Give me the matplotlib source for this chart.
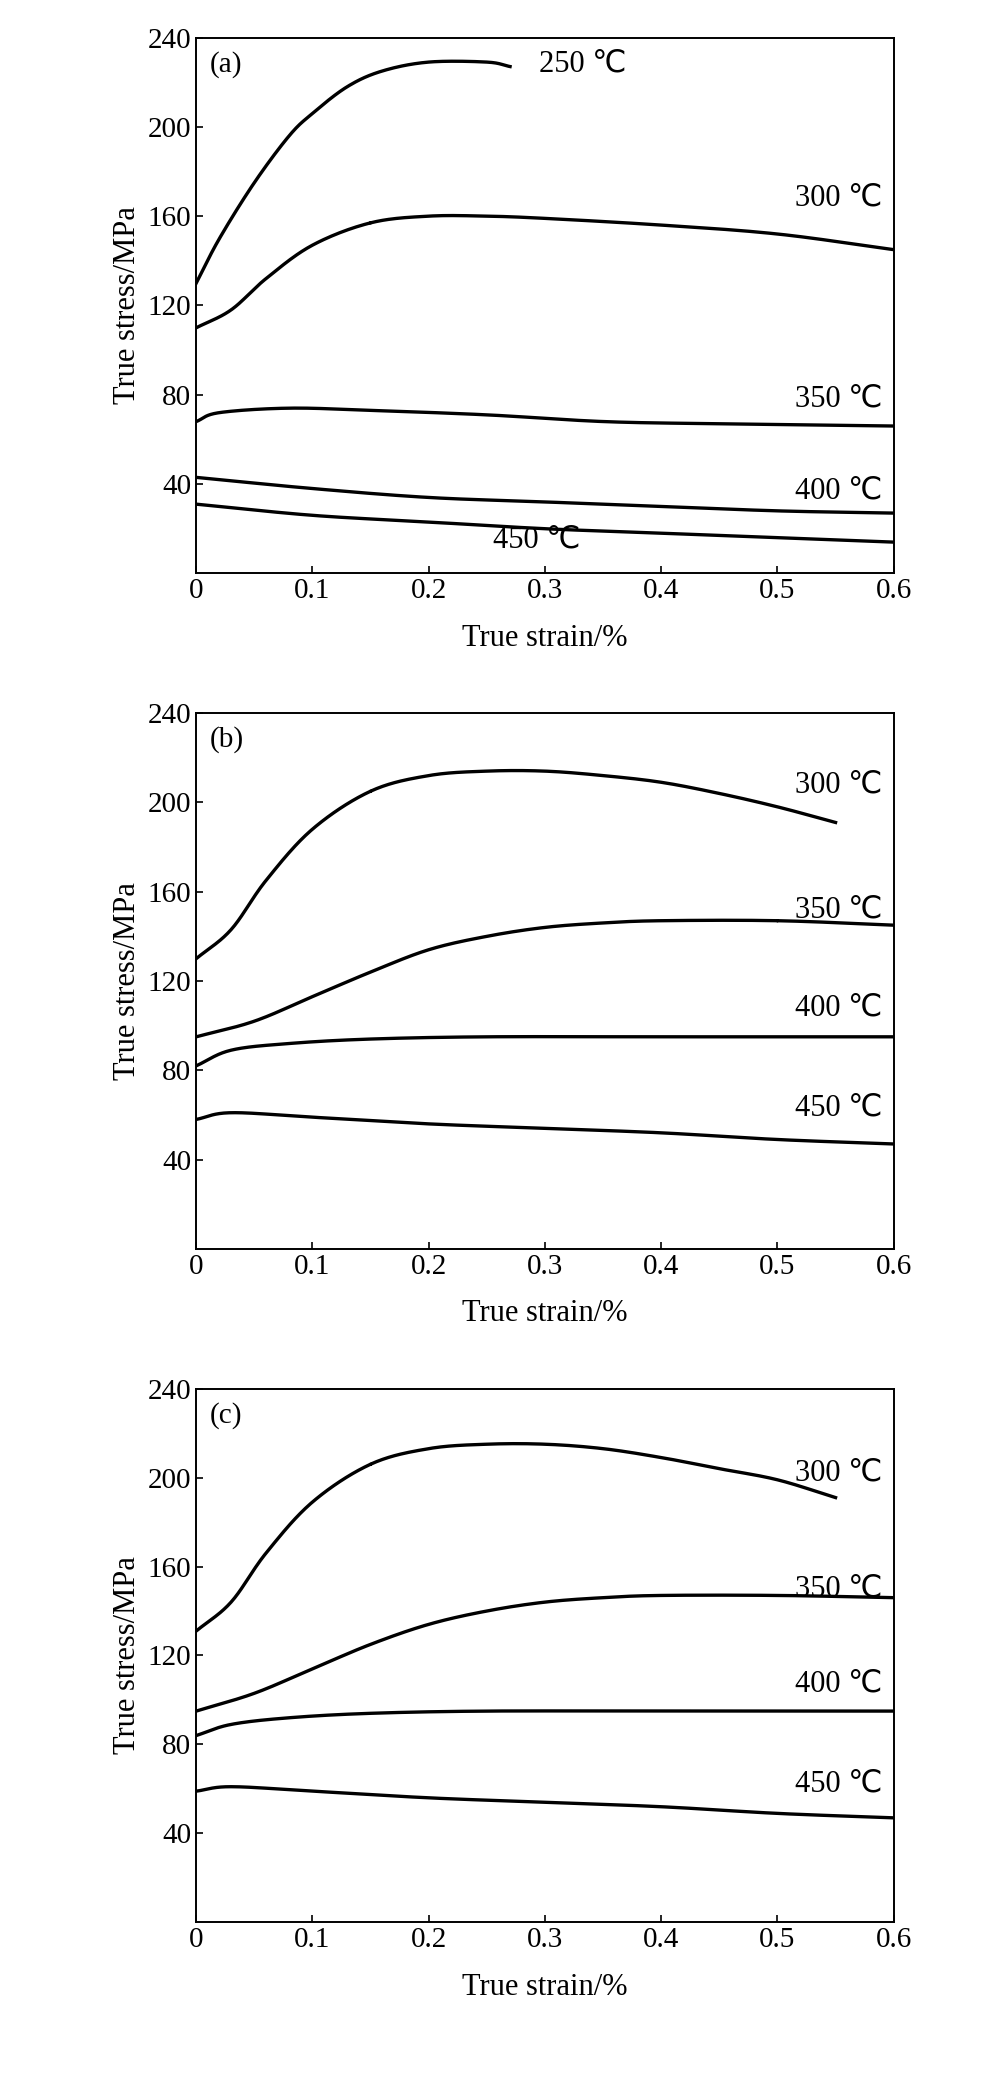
import matplotlib
matplotlib.use("Agg")
import matplotlib.pyplot as plt
import numpy as np

plt.rcParams['font.family'] = ['Liberation Serif', 'DejaVu Sans']

a_curves = {
    "250 ℃": ([0, 0.02, 0.05, 0.08, 0.1, 0.13, 0.16, 0.2, 0.25, 0.27], [130, 150, 175, 196, 206, 218, 225, 229, 229, 227]),
    "300 ℃": ([0, 0.03, 0.06, 0.1, 0.15, 0.2, 0.25, 0.3, 0.4, 0.5, 0.6], [110, 118, 132, 147, 157, 160, 160, 159, 156, 152, 145]),
    "350 ℃": ([0, 0.02, 0.08, 0.15, 0.25, 0.35, 0.45, 0.6], [68, 72, 74, 73, 71, 68, 67, 66]),
    "400 ℃": ([0, 0.1, 0.2, 0.3, 0.4, 0.5, 0.6], [43, 38, 34, 32, 30, 28, 27]),
    "450 ℃": ([0, 0.1, 0.2, 0.3, 0.4, 0.5, 0.6], [31, 26, 23, 20, 18, 16, 14]),
}
a_labels = {"250 ℃": (0.295, 228), "300 ℃": (0.515, 168), "350 ℃": (0.515, 78),
            "400 ℃": (0.515, 37), "450 ℃": (0.255, 15)}

b_curves = {
    "300 ℃": ([0, 0.03, 0.06, 0.1, 0.15, 0.2, 0.25, 0.3, 0.35, 0.4, 0.45, 0.5, 0.55], [130, 143, 165, 188, 205, 212, 214, 214, 212, 209, 204, 198, 191]),
    "350 ℃": ([0, 0.05, 0.1, 0.15, 0.2, 0.25, 0.3, 0.35, 0.4, 0.5, 0.6], [95, 102, 113, 124, 134, 140, 144, 146, 147, 147, 145]),
    "400 ℃": ([0, 0.03, 0.08, 0.15, 0.25, 0.4, 0.6], [82, 89, 92, 94, 95, 95, 95]),
    "450 ℃": ([0, 0.03, 0.1, 0.2, 0.3, 0.4, 0.5, 0.6], [58, 61, 59, 56, 54, 52, 49, 47]),
}
b_labels = {"300 ℃": (0.515, 208), "350 ℃": (0.515, 152), "400 ℃": (0.515, 108), "450 ℃": (0.515, 63)}

c_curves = {
    "300 ℃": ([0, 0.03, 0.06, 0.1, 0.15, 0.2, 0.25, 0.3, 0.35, 0.4, 0.45, 0.5, 0.55], [131, 144, 166, 189, 206, 213, 215, 215, 213, 209, 204, 199, 191]),
    "350 ℃": ([0, 0.05, 0.1, 0.15, 0.2, 0.25, 0.3, 0.35, 0.4, 0.5, 0.6], [95, 103, 114, 125, 134, 140, 144, 146, 147, 147, 146]),
    "400 ℃": ([0, 0.03, 0.08, 0.15, 0.25, 0.4, 0.6], [84, 89, 92, 94, 95, 95, 95]),
    "450 ℃": ([0, 0.03, 0.1, 0.2, 0.3, 0.4, 0.5, 0.6], [59, 61, 59, 56, 54, 52, 49, 47]),
}
c_labels = {"300 ℃": (0.515, 202), "350 ℃": (0.515, 150), "400 ℃": (0.515, 107), "450 ℃": (0.515, 62)}

xticks = [0, 0.1, 0.2, 0.3, 0.4, 0.5, 0.6]
xticklabels = ["0", "0.1", "0.2", "0.3", "0.4", "0.5", "0.6"]
yticks = [40, 80, 120, 160, 200, 240]


def smooth(xs, ys, n=300):
    # Catmull-Rom spline through the read points
    xs = np.asarray(xs, float); ys = np.asarray(ys, float)
    px = np.concatenate([[2*xs[0]-xs[1]], xs, [2*xs[-1]-xs[-2]]])
    py = np.concatenate([[2*ys[0]-ys[1]], ys, [2*ys[-1]-ys[-2]]])
    ox, oy = [], []
    for i in range(1, len(px)-2):
        t = np.linspace(0, 1, 30)
        for arr, out in ((px, ox), (py, oy)):
            p0, p1, p2, p3 = arr[i-1], arr[i], arr[i+1], arr[i+2]
            out.extend(0.5*((2*p1) + (-p0+p2)*t + (2*p0-5*p1+4*p2-p3)*t**2 + (-p0+3*p1-3*p2+p3)*t**3))
    return np.array(ox), np.array(oy)


fig = plt.figure(figsize=(9.81, 20.85), dpi=100)
boxes = [(0.725, 0.982), (0.401, 0.658), (0.078, 0.334)]
panels = [("(a)", a_curves, a_labels), ("(b)", b_curves, b_labels), ("(c)", c_curves, c_labels)]
for (b, t), (tag, curves, labels) in zip(boxes, panels):
    ax = fig.add_axes([0.2, b, 0.711, t - b])
    for name, (xs, ys) in curves.items():
        sx, sy = smooth(xs, ys)
        ax.plot(sx, sy, color='black', lw=2.4)
        lx, ly = labels[name]
        ax.text(lx, ly, name, fontsize=22, va='center', ha='left')
    ax.text(0.012, 228, tag, fontsize=21, va='center')
    ax.set_xlim(0, 0.6)
    ax.set_ylim(0, 240)
    ax.set_xticks(xticks)
    ax.set_xticklabels(xticklabels)
    ax.set_yticks(yticks)
    ax.tick_params(direction='in', labelsize=21, length=5, width=1.2)
    for s in ax.spines.values():
        s.set_linewidth(1.4)
    ax.set_xlabel("True strain/%", fontsize=22, labelpad=14)
    ax.set_ylabel("True stress/MPa", fontsize=22)
fig.savefig("out.png", dpi=100)
